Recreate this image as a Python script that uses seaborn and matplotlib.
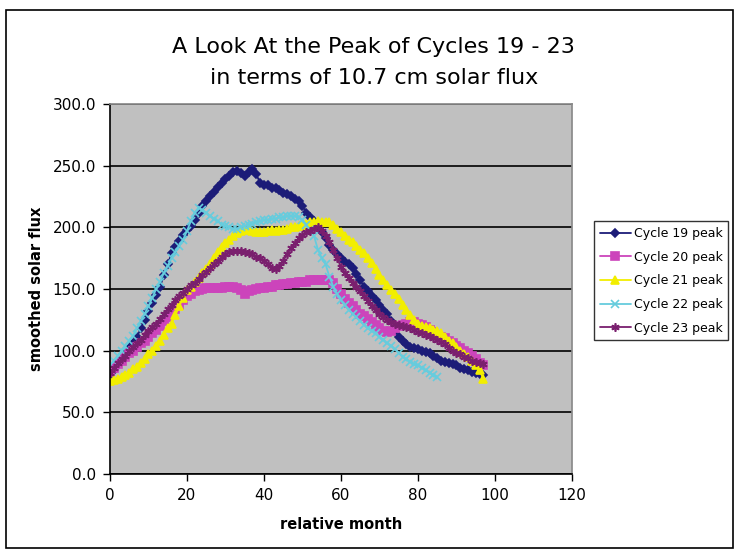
import numpy as np
import pandas as pd
import seaborn as sns
import matplotlib.pyplot as plt
from matplotlib.ticker import FormatStrFormatter, MultipleLocator
from matplotlib.patches import Rectangle

# smoothed 10.7 cm flux, one value per relative month
cycle19 = [80, 84, 88, 93, 97, 102, 106, 111, 118, 125, 132, 139, 145, 152, 161, 170,
           179, 184, 189, 194, 198, 201, 206, 212, 217, 221, 225, 229, 233, 236, 239, 242,
           245, 246, 244, 242, 245, 247, 243, 236, 234, 234, 232, 232, 230, 228, 227, 225,
           223, 221, 217, 212, 208, 205, 200, 196, 191, 186, 182, 178, 175, 172, 170, 167,
           162, 157, 152, 148, 144, 141, 137, 133, 130, 124, 117, 111, 108, 105, 103, 102,
           101, 100, 99, 98, 96, 94, 92, 91, 90, 89, 88, 86, 85, 84, 83, 82, 81, 80]
cycle20 = [83, 86, 89, 92, 95, 98, 100, 103, 106, 108, 111, 114, 117, 120, 124, 127,
           130, 134, 137, 141, 144, 146, 148, 149, 150, 151, 151, 151, 151, 151, 152, 152,
           152, 151, 149, 146, 148, 149, 150, 151, 151, 152, 152, 153, 153, 154, 154, 155,
           155, 156, 156, 156, 157, 157, 157, 157, 157, 157, 155, 150, 146, 142, 139, 136,
           133, 130, 128, 126, 123, 121, 118, 116, 115, 116, 118, 120, 121, 122, 123, 123,
           122, 121, 119, 117, 115, 113, 111, 110, 108, 106, 104, 102, 100, 98, 96, 93, 90, 88]
cycle21 = [75, 76, 77, 79, 80, 82, 85, 87, 90, 93, 97, 100, 104, 108, 113, 118,
           122, 129, 136, 143, 149, 152, 156, 159, 163, 166, 170, 175, 180, 184, 187, 190,
           193, 195, 197, 198, 199, 197, 196, 196, 196, 197, 198, 197, 198, 198, 199, 200,
           200, 201, 202, 203, 204, 204, 205, 204, 204, 204, 202, 199, 196, 193, 190, 188,
           185, 182, 179, 175, 171, 166, 161, 157, 153, 149, 146, 142, 137, 133, 129, 125,
           122, 120, 119, 118, 117, 116, 114, 111, 108, 106, 103, 100, 97, 95, 92, 88, 84, 77]
cycle22 = [88, 92, 96, 100, 104, 108, 112, 118, 124, 130, 136, 143, 150, 156, 163, 169,
           175, 180, 185, 190, 197, 205, 212, 216, 214, 212, 209, 207, 205, 202, 201, 200,
           199, 199, 200, 201, 202, 203, 204, 205, 206, 206, 207, 207, 208, 208, 209, 209,
           209, 208, 206, 202, 198, 193, 182, 175, 170, 160, 152, 146, 141, 137, 133, 130,
           127, 124, 121, 118, 116, 114, 111, 109, 106, 104, 101, 98, 95, 93, 91, 89,
           88, 86, 84, 82, 80, 79]
cycle23 = [82, 86, 90, 93, 96, 100, 103, 106, 109, 113, 116, 119, 122, 126, 130, 134,
           137, 141, 144, 147, 150, 153, 155, 158, 161, 164, 167, 170, 173, 176, 178, 180,
           181, 181, 181, 180, 179, 178, 176, 175, 173, 170, 167, 166, 169, 173, 178, 183,
           187, 191, 194, 196, 197, 199, 200, 197, 193, 188, 182, 175, 168, 163, 159, 155,
           152, 148, 144, 140, 136, 133, 130, 127, 125, 123, 122, 121, 120, 119, 118, 117,
           115, 114, 113, 112, 110, 109, 107, 105, 102, 100, 98, 97, 95, 94, 92, 91, 90, 89]

series_names = ["Cycle 19 peak", "Cycle 20 peak", "Cycle 21 peak", "Cycle 22 peak", "Cycle 23 peak"]
series_vals = [cycle19, cycle20, cycle21, cycle22, cycle23]

frames = []
for name, vals in zip(series_names, series_vals):
    frames.append(pd.DataFrame({"month": np.arange(len(vals)), "flux": vals, "cycle": name}))
df = pd.concat(frames, ignore_index=True)

# excel-ish look
colors = ["#1c1c78", "#cc44bb", "#f2ee00", "#66ccdd", "#7a1f6e"]
markers = ["D", "s", "^", "x", (6, 2, 0)]
msizes = [4.5, 6, 6, 6, 6]

sns.set_theme(style="white")
plt.rcParams["font.family"] = ["DejaVu Sans"]
plt.rcParams["text.color"] = "black"
plt.rcParams["axes.labelcolor"] = "black"
plt.rcParams["legend.labelcolor"] = "black"

fig = plt.figure(figsize=(7.39, 5.55), dpi=100)
ax = fig.add_axes([0.1488, 0.146, 0.6252, 0.6666])
ax.set_facecolor("#c0c0c0")

for name, c, m, ms in zip(series_names, colors, markers, msizes):
    sns.lineplot(
        data=df[df["cycle"] == name],
        x="month",
        y="flux",
        color=c,
        marker=m,
        markersize=ms,
        markeredgecolor=c,
        markeredgewidth=1.2,
        linewidth=1.3,
        label=name,
        ax=ax,
    )

ax.set_xlim(0, 120)
ax.set_ylim(0, 300)
ax.xaxis.set_major_locator(MultipleLocator(20))
ax.yaxis.set_major_locator(MultipleLocator(50))
ax.yaxis.set_major_formatter(FormatStrFormatter("%.1f"))
ax.grid(axis="y", color="black", linewidth=1.2)
ax.set_axisbelow(True)

for side in ["top", "right"]:
    ax.spines[side].set_color("#8a8a8a")
for side in ["left", "bottom"]:
    ax.spines[side].set_color("black")
    ax.spines[side].set_linewidth(1.2)

ax.tick_params(axis="both", direction="out", length=5, width=1, color="black",
               labelsize=11, labelcolor="black", left=True, bottom=True, pad=5)

ax.set_xlabel("relative month", fontsize=10.5, fontweight="bold", labelpad=10, color="black")
ax.set_ylabel("smoothed solar flux", fontsize=10.5, fontweight="bold", labelpad=6, color="black")

fig.text(0.506, 0.915, "A Look At the Peak of Cycles 19 - 23",
         ha="center", va="center", fontsize=16, color="black")
fig.text(0.506, 0.859, "in terms of 10.7 cm solar flux",
         ha="center", va="center", fontsize=16, color="black")

leg = ax.legend(loc="upper left", bbox_to_anchor=(0.804, 0.601),
                bbox_transform=fig.transFigure, fontsize=9, frameon=True,
                fancybox=False, handlelength=2.5, borderpad=0.45, labelspacing=0.85,
                handletextpad=0.2, borderaxespad=0)
leg.get_frame().set_edgecolor("black")
leg.get_frame().set_linewidth(1)
leg.get_frame().set_facecolor("white")
for t in leg.get_texts():
    t.set_color("black")

# outer chart border
fig.patches.append(Rectangle((0.008, 0.012), 0.984, 0.97, transform=fig.transFigure,
                             fill=False, edgecolor="black", linewidth=1.2))

fig.savefig("out.png", dpi=100)
